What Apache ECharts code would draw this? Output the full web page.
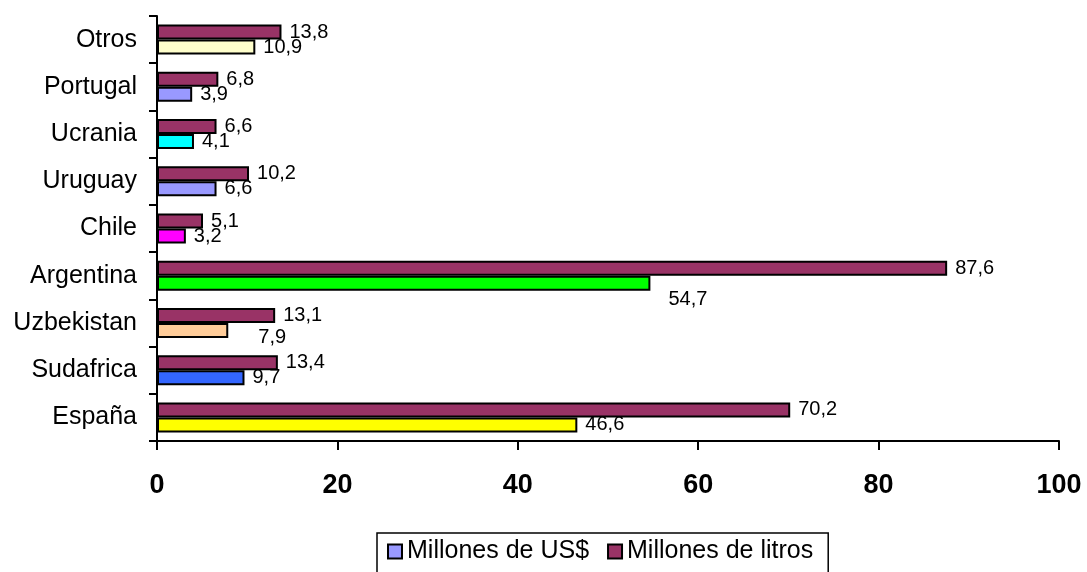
<!DOCTYPE html>
<html>
<head>
<meta charset="utf-8">
<script src="https://cdn.jsdelivr.net/npm/echarts@6/dist/echarts.min.js"></script>
<style>html,body{margin:0;padding:0;background:#fff}#c{width:1087px;height:572px}</style>
</head>
<body>
<div id="c"></div>
<script>
const categories = ['España','Sudafrica','Uzbekistan','Argentina','Chile','Uruguay','Ucrania','Portugal','Otros'];
const usd = [46.6, 9.7, 7.9, 54.7, 3.2, 6.6, 4.1, 3.9, 10.9];
const litros = [70.2, 13.4, 13.1, 87.6, 5.1, 10.2, 6.6, 6.8, 13.8];
const xTicks = [0, 20, 40, 60, 80, 100];
const seriesNames = ['Millones de US$', 'Millones de litros'];
const usdColors = ['#FFFF00','#3366FF','#FFCC99','#00FF00','#FF00FF','#9999FF','#00FFFF','#9999FF','#FFFFCC'];

const fmt = p => String(p.value).replace('.', ',');
const FONT = '"Liberation Sans", Arial, sans-serif';
const labelOffsets = { 'Uzbekistan': [22, 7], 'Argentina': [10, 16] };

const usdData = usd.map((v, i) => {
  const item = { value: v, itemStyle: { color: usdColors[i] } };
  const off = labelOffsets[categories[i]];
  if (off) item.label = { offset: off };
  return item;
});

const chart = echarts.init(document.getElementById('c'));
chart.setOption({
  animation: false,
  backgroundColor: '#fff',
  grid: { left: 157, right: 28, top: 16, bottom: 131, containLabel: false },
  xAxis: {
    type: 'value', min: xTicks[0], max: xTicks[xTicks.length - 1], interval: 20,
    splitLine: { show: false },
    axisLine: { show: true, lineStyle: { color: '#000', width: 2 } },
    axisTick: { show: true, length: 9, lineStyle: { color: '#000', width: 2 } },
    axisLabel: { color: '#000', fontFamily: FONT, fontWeight: 'bold', fontSize: 27, margin: 31 }
  },
  yAxis: {
    type: 'category', data: categories,
    axisLine: { show: true, lineStyle: { color: '#000', width: 2 } },
    axisTick: { show: true, length: 8, lineStyle: { color: '#000', width: 2 } },
    axisLabel: { color: '#000', fontFamily: FONT, fontSize: 25, margin: 20 }
  },
  legend: {
    left: 377, top: 533,
    data: seriesNames,
    icon: 'rect', itemWidth: 14, itemHeight: 14, itemGap: 18,
    borderColor: '#000', borderWidth: 1.5, padding: [6, 15, 10, 10],
    textStyle: { color: '#000', fontFamily: FONT, fontSize: 25 },
    itemStyle: { borderColor: '#000', borderWidth: 2 }
  },
  series: [
    {
      name: seriesNames[1], type: 'bar', data: litros,
      barWidth: 15, barGap: '0%',
      itemStyle: { color: '#993366', borderColor: '#000', borderWidth: 2 },
      label: { show: true, position: 'right', distance: 8, formatter: fmt, color: '#000', fontFamily: FONT, fontSize: 20 }
    },
    {
      name: seriesNames[0], type: 'bar', data: usdData,
      barWidth: 15, barGap: '0%',
      itemStyle: { color: '#9999FF', borderColor: '#000', borderWidth: 2 },
      label: { show: true, position: 'right', distance: 8, formatter: fmt, color: '#000', fontFamily: FONT, fontSize: 20 }
    }
  ]
});
</script>
</body>
</html>
